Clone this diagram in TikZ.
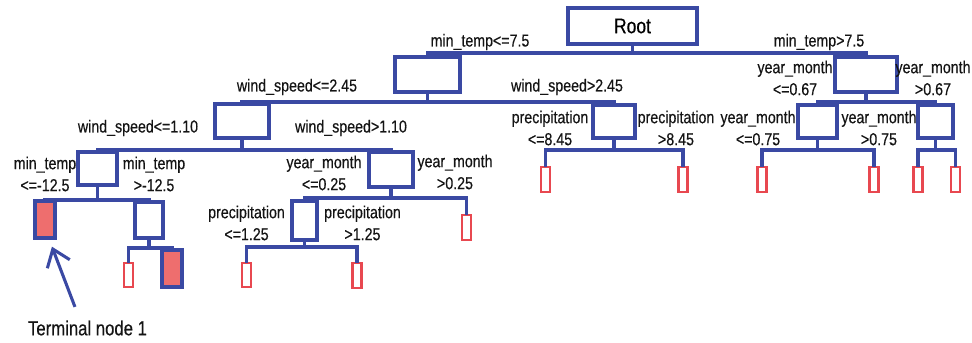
\documentclass[tikz,border=0pt]{standalone}
\usepackage{fontspec}
\setmainfont[FakeStretch=0.82,FakeBold=0.4]{Liberation Sans}
\usetikzlibrary{arrows.meta}

\definecolor{treeblue}{HTML}{3A49A3}
\definecolor{leafred}{HTML}{E84850}
\definecolor{leaffill}{HTML}{EE6E6E}

\begin{document}
\begin{tikzpicture}[x=0.75pt,y=-0.75pt,
  split/.style 2 args={draw=treeblue,line width=2.3pt,fill=white,inner sep=0pt,outer sep=0pt,
    minimum width=#1*0.75pt,minimum height=#2*0.75pt},
  hit/.style 2 args={split={#1}{#2},fill=leaffill},
  leaf/.style={draw=leafred,line width=1.6pt,fill=white,inner sep=0pt,outer sep=0pt,
    minimum width=6.75pt,minimum height=18.5pt},
  br/.style={draw=treeblue,line width=2.3pt},
  cond/.style={align=center,text=black!92,inner sep=0pt,font=\fontsize{13}{16.5}\selectfont},
  pointer/.style={draw=treeblue,line width=2.3pt,-{Straight Barb[length=12pt,width=18pt]}}]
  \useasboundingbox (0,0) rectangle (972,343);

  % splits
  \node[split={129}{36}] (root) at (632.5,26) {\fontsize{16}{18}\selectfont Root};
  \node[split={65}{35}] (mtL) at (427.5,74.5) {};
  \node[split={62}{35}] (mtR) at (866,74.5) {};
  \node[split={54}{34}] (wsL) at (242,121) {};
  \node[split={42}{33}] (wsR) at (614,121.5) {};
  \node[split={39}{33}] (ymL) at (817.5,121.5) {};
  \node[split={35}{33}] (ymR) at (935.5,121.5) {};
  \node[split={39}{33}] (wsLL) at (97.5,168.5) {};
  \node[split={44}{35}] (wsLR) at (391,169.5) {};
  \node[split={28}{36}] (mtLR) at (149,220) {};
  \node[split={25}{39}] (ymLL) at (304.5,220.5) {};

  % terminal nodes
  \node[hit={20}{37}] (t1) at (45,219.5) {};
  \node[leaf] (t2) at (128.5,275) {};
  \node[hit={20}{37}] (t3) at (172,268.5) {};
  \node[leaf] (t4) at (246.5,275) {};
  \node[leaf] (t5) at (357,275.5) {};
  \node[leaf] (t6) at (466.5,227.5) {};
  \node[leaf] (t7) at (545.5,179.5) {};
  \node[leaf] (t8) at (683,179.5) {};
  \node[leaf] (t9) at (762,179.5) {};
  \node[leaf] (t10) at (874,179.5) {};
  \node[leaf] (t11) at (918,179.5) {};
  \node[leaf] (t12) at (955.5,179.5) {};

  % branches
  \draw[br] (root.south) -- ++(0,9) -| (mtL.north);
  \draw[br] (root.south) -- ++(0,9) -| (mtR.north);
  \draw[br] (mtL.south) -- ++(0,10) -| (wsL.north);
  \draw[br] (mtL.south) -- ++(0,10) -| (wsR.north);
  \draw[br] (mtR.south) -- ++(0,10) -| (ymL.north);
  \draw[br] (mtR.south) -- ++(0,10) -| (ymR.north);
  \draw[br] (wsL.south) -- ++(0,12) -| (wsLL.north);
  \draw[br] (wsL.south) -- ++(0,12) -| (wsLR.north);
  \draw[br] (wsR.south) -- ++(0,12) -| (t7.north);
  \draw[br] (wsR.south) -- ++(0,12) -| (t8.north);
  \draw[br] (ymL.south) -- ++(0,12) -| (t9.north);
  \draw[br] (ymL.south) -- ++(0,12) -| (t10.north);
  \draw[br] (ymR.south) -- ++(0,12) -| (t11.north);
  \draw[br] (ymR.south) -- ++(0,12) -| (t12.north);
  \draw[br] (wsLL.south) -- ++(0,15) -| (t1.north);
  \draw[br] (wsLL.south) -- ++(0,15) -| (mtLR.north);
  \draw[br] (wsLR.south) -- ++(0,11) -| (ymLL.north);
  \draw[br] (wsLR.south) -- ++(0,11) -| (t6.north);
  \draw[br] (mtLR.south) -- ++(0,10) -| (t2.north);
  \draw[br] (mtLR.south) -- ++(0,10) -| (t3.north);
  \draw[br] (ymLL.south) -- ++(0,7) -| (t4.north);
  \draw[br] (ymLL.south) -- ++(0,7) -| (t5.north);

  % split conditions
  \node[cond] (c1) at (480,42) {min\_temp<=7.5};
  \node[cond] (c2) at (819,42) {min\_temp>7.5};
  \node[cond] (c3) at (297,87) {wind\_speed<=2.45};
  \node[cond] (c4) at (567,87) {wind\_speed>2.45};
  \node[cond] (c5) at (795,78) {year\_month\\<=0.67};
  \node[cond] (c6) at (933,78) {year\_month\\>0.67};
  \node[cond] (c7) at (138,128) {wind\_speed<=1.10};
  \node[cond] (c8) at (351,128) {wind\_speed>1.10};
  \node[cond] (c9) at (550,128) {precipitation\\<=8.45};
  \node[cond] (c10) at (676,128) {precipitation\\>8.45};
  \node[cond] (c11) at (758,128) {year\_month\\<=0.75};
  \node[cond] (c12) at (879,128) {year\_month\\>0.75};
  \node[cond] (c13) at (45,174) {min\_temp\\<=-12.5};
  \node[cond] (c14) at (154,174) {min\_temp\\>-12.5};
  \node[cond] (c15) at (324,173) {year\_month\\<=0.25};
  \node[cond] (c16) at (455,172) {year\_month\\>0.25};
  \node[cond] (c17) at (246.5,223) {precipitation\\<=1.25};
  \node[cond] (c18) at (362.5,223) {precipitation\\>1.25};

  % callout
  \node[cond,font=\fontsize{15.3}{18}\selectfont] (term) at (87.5,328) {Terminal node 1};
  \draw[pointer] ([xshift=-9.4pt,yshift=10pt]term.north) -- ([xshift=5.2pt,yshift=-6.5pt]t1.south);
\end{tikzpicture}
\end{document}
